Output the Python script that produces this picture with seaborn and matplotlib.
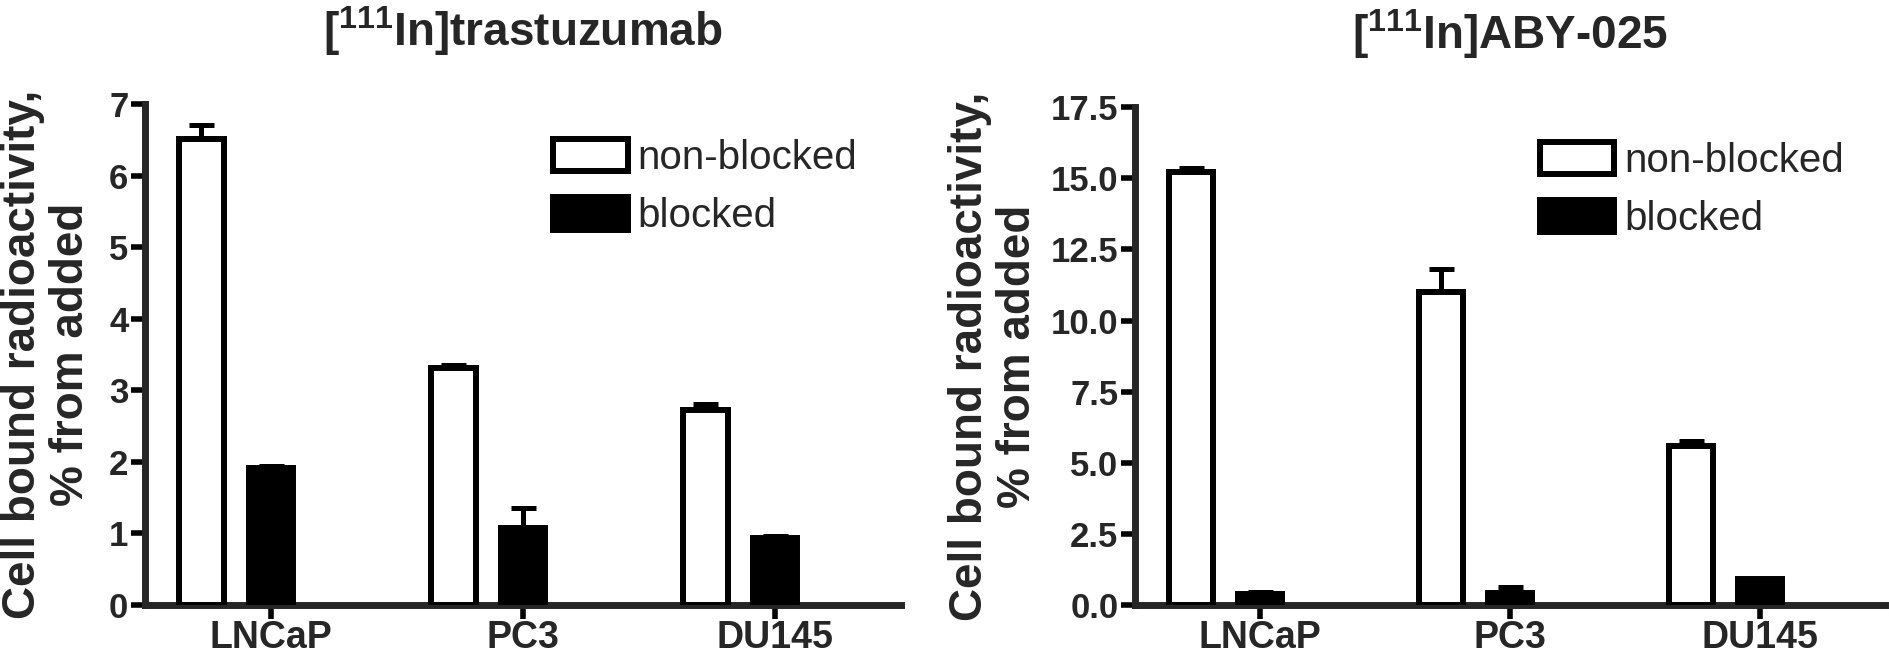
import numpy as np
import pandas as pd
import matplotlib
matplotlib.use("Agg")
import matplotlib.pyplot as plt
import seaborn as sns
from matplotlib.patches import Patch

cells = ["LNCaP", "PC3", "DU145"]
groups = ["non-blocked", "blocked"]

# [111In]trastuzumab
tras_nonblocked = [6.52, 3.32, 2.73]
tras_nonblocked_err = [0.19, 0.04, 0.08]
tras_blocked = [1.91, 1.08, 0.93]
tras_blocked_err = [0.04, 0.28, 0.03]

# [111In]ABY-025
aby_nonblocked = [15.22, 11.00, 5.58]
aby_nonblocked_err = [0.14, 0.80, 0.18]
aby_blocked = [0.40, 0.44, 0.90]
aby_blocked_err = [0.05, 0.19, 0.03]

tras_ticks = [0, 1, 2, 3, 4, 5, 6, 7]
aby_ticks = [0.0, 2.5, 5.0, 7.5, 10.0, 12.5, 15.0, 17.5]

ylab = "Cell bound radioactivity,\n% from added"

sns.set_style("ticks")
plt.rcParams["font.family"] = ["Liberation Sans", "DejaVu Sans"]
plt.rcParams["mathtext.fontset"] = "custom"
plt.rcParams["mathtext.rm"] = "Liberation Sans"
plt.rcParams["mathtext.bf"] = "Liberation Sans:bold"

palette = {"non-blocked": "white", "blocked": "black", "spacer": "white"}
LW = 4.3


def panel(ax, nb, nb_err, bl, bl_err, title, ticks, fmt, label_x):
    df = pd.DataFrame({
        "cell": cells * 2,
        "group": ["non-blocked"] * 3 + ["blocked"] * 3,
        "value": nb + bl,
        "err": nb_err + bl_err,
    })
    # third (empty) hue slot reproduces the Prism spacing
    sns.barplot(data=df, x="cell", y="value", hue="group",
                hue_order=groups + ["spacer"], palette=palette,
                width=0.83, gap=0.36, errorbar=None, edgecolor="black",
                linewidth=LW, legend=False, ax=ax, zorder=3)

    for level, cont in zip(groups, ax.containers):
        sub = df[df.group == level].set_index("cell")
        for bar in cont:
            cx = bar.get_x() + bar.get_width() / 2
            c = cells[int(round(cx))]
            ax.errorbar(cx, sub.loc[c, "value"], yerr=[[0], [sub.loc[c, "err"]]],
                        fmt="none", ecolor="black", elinewidth=3.6,
                        capsize=9, capthick=3.6, zorder=2)

    ax.set_xlim(-0.5, 2.5)
    ax.set_ylim(ticks[0], ticks[-1])
    ax.set_yticks(ticks)
    ax.set_yticklabels([fmt.format(t) for t in ticks])
    sns.despine(ax=ax)
    for s in ["left", "bottom"]:
        ax.spines[s].set_linewidth(5)
    ax.tick_params(axis="both", width=4, length=10, color="black")
    ax.tick_params(axis="y", labelsize=25, pad=2)
    ax.tick_params(axis="x", labelsize=27, pad=1)
    for t in ax.get_xticklabels() + ax.get_yticklabels():
        t.set_fontweight("bold")
    ax.set_xlabel("")
    ax.set_ylabel(ylab, fontsize=33, fontweight="bold", linespacing=1.1)
    ax.yaxis.set_label_coords(label_x, 0.5)
    ax.set_title(title, fontsize=33, fontweight="bold", pad=42)

    handles = [
        Patch(facecolor=palette[g], edgecolor="black", linewidth=LW,
              joinstyle="round", label=g) for g in groups
    ]
    ax.legend(handles=handles, loc="upper left", bbox_to_anchor=(0.54, 0.93),
              frameon=False, fontsize=29, handlelength=1.85, handleheight=0.85,
              handletextpad=0.25, labelspacing=0.5, borderpad=0,
              borderaxespad=0)


fig = plt.figure(figsize=(18.9, 6.56), dpi=100)
ax1 = fig.add_axes([0.0767, 0.0777, 0.4, 0.7634])
ax2 = fig.add_axes([0.6005, 0.0777, 0.3968, 0.759])

panel(ax1, tras_nonblocked, tras_nonblocked_err, tras_blocked, tras_blocked_err,
      r"[$^{\mathbf{111}}$In]trastuzumab", tras_ticks, "{:.0f}", -0.069)
panel(ax2, aby_nonblocked, aby_nonblocked_err, aby_blocked, aby_blocked_err,
      r"[$^{\mathbf{111}}$In]ABY-025", aby_ticks, "{:.1f}", -0.127)

fig.savefig("out.png", dpi=100)
